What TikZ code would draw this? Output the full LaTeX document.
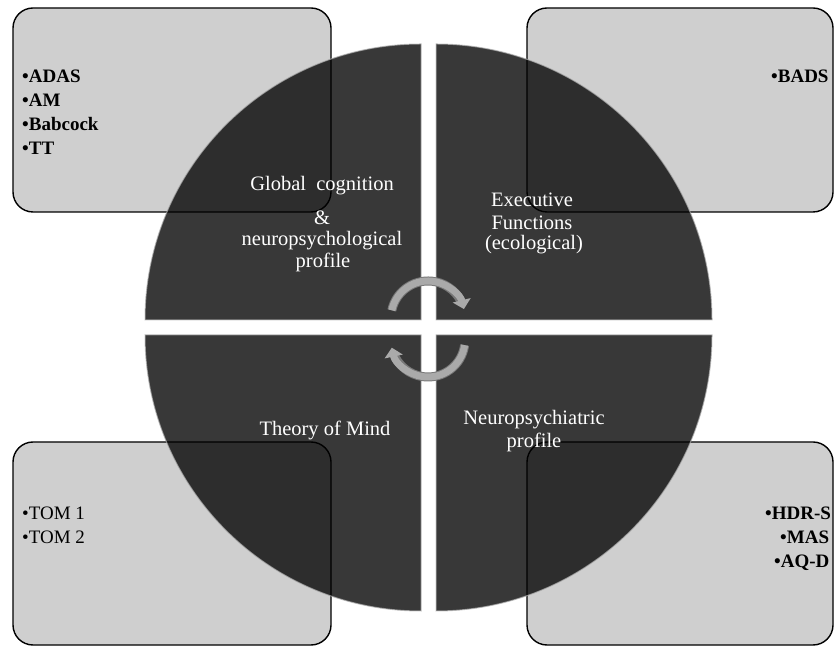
\documentclass[tikz,border=0pt]{standalone}
\usepackage{fontspec}
\setmainfont{Liberation Serif}
\usetikzlibrary{arrows.meta}
\definecolor{boxgray}{RGB}{207,207,207}
\definecolor{arrowgray}{RGB}{170,170,170}
\definecolor{arrowedge}{RGB}{120,120,120}
\begin{document}
\begin{tikzpicture}[x=1pt,y=1pt,
  infobox/.style={draw=black, line width=1.4pt, fill=boxgray, rounded corners=20pt, inner sep=0pt},
  quad/.style={fill=black, fill opacity=0.78, draw=gray!60, draw opacity=0.7, line width=1pt},
  lbl/.style={text=white, font=\fontsize{20.5}{23}\selectfont, inner sep=0pt, align=center},
  itemb/.style={font=\bfseries\fontsize{19}{23}\selectfont, anchor=base west, inner sep=0pt},
  itemr/.style={font=\fontsize{19}{23}\selectfont, anchor=base west, inner sep=0pt},
  cycedge/.style={draw=arrowedge, line width=9pt},
  cyc/.style={draw=arrowgray, line width=7pt, -{Triangle[length=9pt,width=18pt]}}
]
\useasboundingbox (0,0) rectangle (834,647);
\clip (0,0) rectangle (834,647);
\fill[white] (0,0) rectangle (834,647);

% info boxes
\node[infobox, minimum width=318pt, minimum height=204pt] (boxTL) at (172,537) {};
\node[infobox, minimum width=306pt, minimum height=204pt] (boxTR) at (680,537) {};
\node[infobox, minimum width=318pt, minimum height=203pt] (boxBL) at (172,103.5) {};
\node[infobox, minimum width=306pt, minimum height=203pt] (boxBR) at (680,103.5) {};

% quadrants
\path[quad] (421,327) -- (145,327) arc[start angle=180, end angle=90, radius=276] -- cycle;
\path[quad] (436,327) -- (436,603) arc[start angle=90, end angle=0, radius=276] -- cycle;
\path[quad] (421,312) -- (421,36) arc[start angle=270, end angle=180, radius=276] -- cycle;
\path[quad] (436,312) -- (712,312) arc[start angle=0, end angle=-90, radius=276] -- cycle;

% quadrant labels
\node[lbl] (gc1) at (322,461) {Global~~cognition};
\node[lbl] (gc2) at (322,429) {\&};
\node[lbl] (gc3) at (322,406) {neuropsychological};
\node[lbl] (gc4) at (323,385) {profile};
\node[lbl] (ef1) at (532,447) {Executive};
\node[lbl] (ef2) at (532,424) {Functions};
\node[lbl] (ef3) at (534,402) {(ecological)};
\node[lbl] (tom) at (325,217) {Theory of Mind};
\node[lbl] (np1) at (534,227) {Neuropsychiatric};
\node[lbl] (np2) at (534,205) {profile};

% bullet items
\node[itemb] (adas) at (22,564) {•ADAS};
\node[itemb] (am) at (22,540) {•AM};
\node[itemb] (bab) at (22,516) {•Babcock};
\node[itemb] (tt) at (22,492) {•TT};
\node[itemb] (bads) at (771,564) {•BADS};
\node[itemr] (tom1) at (22,127) {•TOM 1};
\node[itemr] (tom2) at (22,103) {•TOM 2};
\node[itemb] (hdrs) at (765,127) {•HDR-S};
\node[itemb] (mas) at (780,103) {•MAS};
\node[itemb] (aqd) at (774,79) {•AQ-D};

% cycle arrows
\coordinate (cTop) at (428,329);
\coordinate (cBot) at (428,307);
\draw[cycedge] ([shift={(168:37)}]cTop) arc[start angle=168, end angle=22, radius=37];
\draw[cyc] ([shift={(168:37)}]cTop) arc[start angle=168, end angle=14, radius=37];
\draw[cycedge] ([shift={(-8:37)}]cBot) arc[start angle=-8, end angle=-160, radius=37];
\draw[cyc] ([shift={(-8:37)}]cBot) arc[start angle=-8, end angle=-168, radius=37];
\end{tikzpicture}
\end{document}
